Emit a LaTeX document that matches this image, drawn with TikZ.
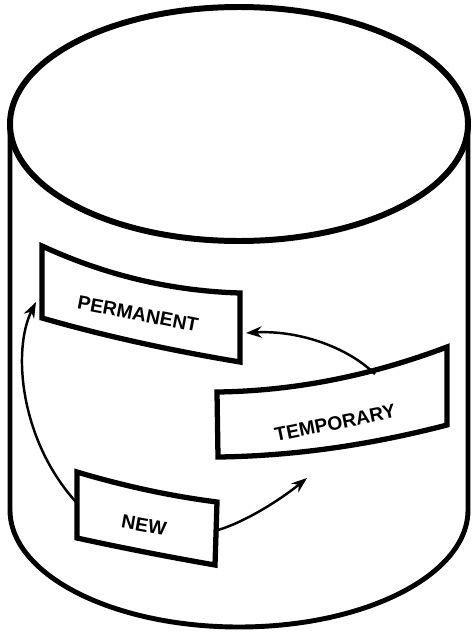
\documentclass[tikz,border=0pt]{standalone}
\usepackage{fontspec}
\setmainfont{Liberation Sans}
\usetikzlibrary{arrows.meta}

\begin{document}
\begin{tikzpicture}[x=0.02cm,y=-0.02cm,
  lbl/.style={font=\fontsize{11}{13}\selectfont\bfseries},
  card/.style={line width=3pt,line join=miter},
  flow/.style={-{Stealth[length=9pt,width=6.5pt]},line width=1.4pt}]
\useasboundingbox (0,0) rectangle (471,632);

% the drum
\draw[line width=3.4pt] (239,124) ellipse [x radius=229, y radius=117];
\draw[line width=2.8pt] (10,124) -- (10,510)
  arc[start angle=180, end angle=0, x radius=229, y radius=117] -- (468,124);

% the three cards
\draw[card] (42,246) .. controls (107,276) and (173,291) .. (240,293) -- (240,362)
  .. controls (174,351) and (108,337) .. (42,318) -- cycle;
\node[lbl, rotate=-11] (perm) at (138,314) {PERMANENT};

\draw[card] (217,392) .. controls (294,391) and (370,376) .. (447,347) -- (447,425)
  .. controls (370,445) and (294,456) .. (218,457) -- cycle;
\node[lbl, rotate=11.5] (temp) at (335,423) {TEMPORARY};

\draw[card] (77,472) .. controls (124,486) and (170,496) .. (217,502) -- (215,565)
  .. controls (169,557) and (123,548) .. (77,538) -- cycle;
\node[lbl, rotate=-10] (new) at (144,525) {NEW};

\coordinate (perm-w) at (36,302);
\coordinate (perm-e) at (246,333);
\coordinate (temp-n) at (375,374);
\coordinate (temp-s) at (307,478);
\coordinate (new-w) at (76,502);
\coordinate (new-e) at (218,530);

\draw[flow] (new-w) .. controls (20,440) and (12,350) .. (perm-w);

\draw[flow] (new-e) .. controls (245,522) and (280,500) .. (temp-s);

\draw[flow] (temp-n) .. controls (345,345) and (295,330) .. (perm-e);
\end{tikzpicture}
\end{document}
